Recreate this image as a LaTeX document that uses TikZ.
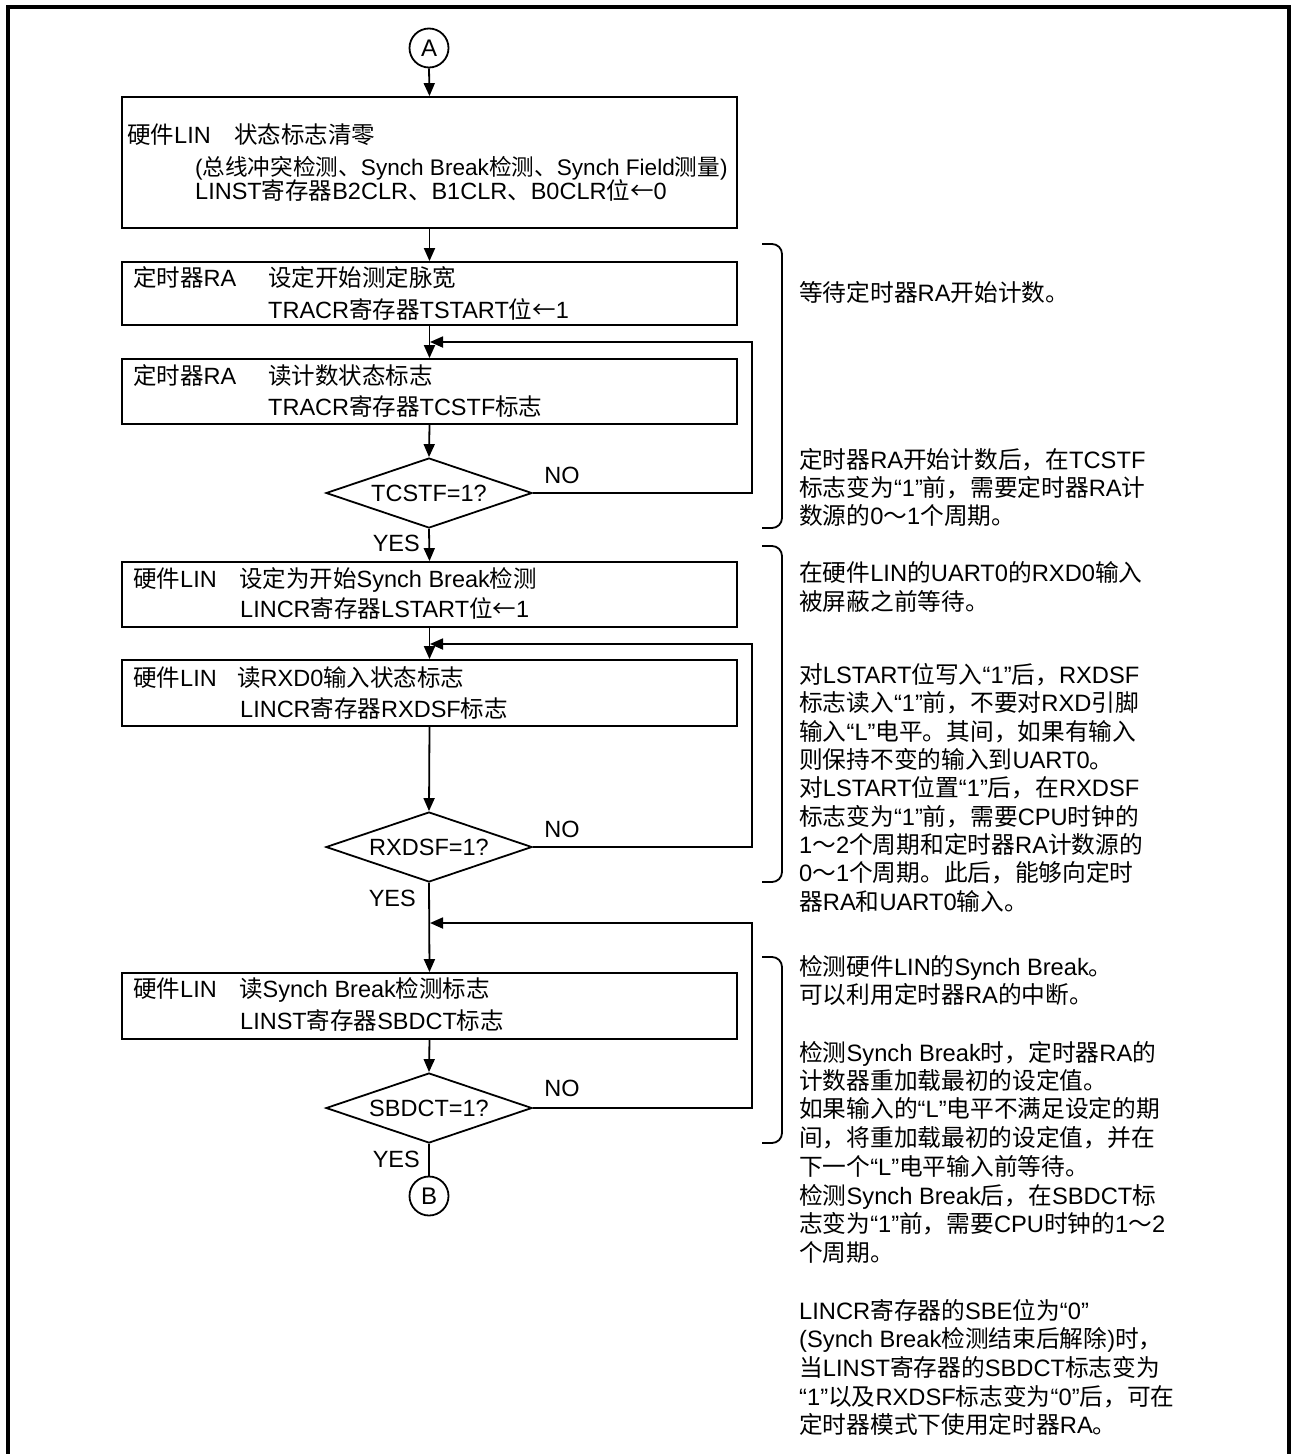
\documentclass[tikz,border=0pt]{standalone}
\usepackage{fontspec}
\setmainfont{Liberation Sans}
\newfontfamily\cjkfam{Noto Sans CJK SC}
\usetikzlibrary{arrows.meta,shapes.geometric}
\XeTeXinterchartokenstate=1
\newXeTeXintercharclass\cjkcls
\newcount\cjkc
\cjkc="3000 \loop \XeTeXcharclass\cjkc=\cjkcls \advance\cjkc by 1 \ifnum\cjkc<"3040 \repeat
\cjkc="4E00 \loop \XeTeXcharclass\cjkc=\cjkcls \advance\cjkc by 1 \ifnum\cjkc<"A000 \repeat
\cjkc="FF00 \loop \XeTeXcharclass\cjkc=\cjkcls \advance\cjkc by 1 \ifnum\cjkc<"FFF0 \repeat
\XeTeXcharclass"2190=\cjkcls
\XeTeXinterchartoks 0 \cjkcls = {\cjkfam}
\XeTeXinterchartoks 4095 \cjkcls = {\cjkfam}
\XeTeXinterchartoks \cjkcls 0 = {\rmfamily}
\XeTeXinterchartoks \cjkcls 4095 = {\rmfamily}
\tikzset{
  procbox/.style={draw, line width=1.8pt, minimum width=615pt, inner sep=0pt},
  decbox/.style={draw, diamond, aspect=3, line width=1.8pt, minimum width=206pt, minimum height=70pt, inner sep=0pt, font=\fontsize{23.5}{27}\selectfont},
  conn/.style={draw, circle, line width=1.8pt, minimum size=39pt, inner sep=0pt, font=\fontsize{24}{27}\selectfont},
  btxt/.style={anchor=base west, inner sep=0pt, font=\fontsize{23.5}{27}\selectfont},
  rtxt/.style={anchor=base west, inner sep=0pt, font=\fontsize{23.7}{27}\selectfont},
  lbl/.style={inner sep=0pt, font=\fontsize{23.5}{27}\selectfont},
  flow/.style={line width=1.8pt, -{Triangle[length=13pt,width=11pt]}},
  plain/.style={line width=1.8pt},
  brace/.style={line width=1.8pt, rounded corners=10pt},
}
\begin{document}
\begin{tikzpicture}[x=1pt,y=-1pt]
\useasboundingbox (0,0) rectangle (1291,1454);
\fill[white] (0,0) rectangle (1291,1454);
% outer frame
\draw[line width=3.8pt] (8,1456) -- (8,7) -- (1289,7) -- (1289,1456);

% connectors A/B
\node[conn] (A) at (429,48) {A};
\node[conn] (B) at (429,1196) {B};

% process boxes
\node[procbox, minimum height=131pt] (b1) at (429.5,162.5) {};
\node[procbox, minimum height=63pt] (b2) at (429.5,293.5) {};
\node[procbox, minimum height=65pt] (b3) at (429.5,391.5) {};
\node[procbox, minimum height=65pt] (b4) at (429.5,594.5) {};
\node[procbox, minimum height=66pt] (b5) at (429.5,693) {};
\node[procbox, minimum height=66pt] (b6) at (429.5,1006) {};

% decisions
\node[decbox] (d1) at (429,493) {TCSTF=1?};
\node[decbox] (d2) at (429,847) {RXDSF=1?};
\node[decbox] (d3) at (429,1108) {SBDCT=1?};

% box texts
\node[btxt] (t1a) at (127,143) {硬件LIN};
\node[btxt] (t1b) at (234,143) {状态标志清零};
\node[btxt, font=\fontsize{22.6}{27}\selectfont] (t1c) at (195,175) {(总线冲突检测、Synch Break检测、Synch Field测量)};
\node[btxt] (t1d) at (195,199) {LINST寄存器B2CLR、B1CLR、B0CLR位←0};

\node[btxt] (t2a) at (133,286) {定时器RA};
\node[btxt] (t2b) at (268,286) {设定开始测定脉宽};
\node[btxt] (t2c) at (268,318) {TRACR寄存器TSTART位←1};

\node[btxt] (t3a) at (133,384) {定时器RA};
\node[btxt] (t3b) at (268,384) {读计数状态标志};
\node[btxt] (t3c) at (268,415) {TRACR寄存器TCSTF标志};

\node[btxt] (t4a) at (133,587) {硬件LIN};
\node[btxt] (t4b) at (239,587) {设定为开始Synch Break检测};
\node[btxt] (t4c) at (240,617) {LINCR寄存器LSTART位←1};

\node[btxt] (t5a) at (133,686) {硬件LIN};
\node[btxt] (t5b) at (237,686) {读RXD0输入状态标志};
\node[btxt] (t5c) at (240,717) {LINCR寄存器RXDSF标志};

\node[btxt] (t6a) at (133,997) {硬件LIN};
\node[btxt] (t6b) at (239,997) {读Synch Break检测标志};
\node[btxt] (t6c) at (240,1029) {LINST寄存器SBDCT标志};

% labels
\node[lbl] (no1) at (562,475) {NO};
\node[lbl] (no2) at (562,829) {NO};
\node[lbl] (no3) at (562,1088) {NO};
\node[lbl, anchor=east] (yes1) at (420,543) {YES};
\node[lbl, anchor=east] (yes2) at (416,898) {YES};
\node[lbl, anchor=east] (yes3) at (420,1159) {YES};

% junction coordinates
\coordinate (j1) at (429,342);
\coordinate (j2) at (429,644);
\coordinate (j3) at (429,923);
\coordinate (r1) at (752,493);
\coordinate (r2) at (752,847);
\coordinate (r3) at (752,1108);

% main flow
\draw[flow] (A.south) -- (b1.north);
\draw[flow] (b1.south) -- (b2.north);
\draw[flow] (b2.south) -- (b3.north);
\draw[flow] (b3.south) -- (d1.north);
\draw[flow] (d1.south) -- (b4.north);
\draw[flow] (b4.south) -- (b5.north);
\draw[flow] (b5.south) -- (d2.north);
\draw[flow] (d2.south) -- (b6.north);
\draw[flow] (b6.south) -- (d3.north);
\draw[plain] (d3.south) -- (B.north);

% loops
\draw[flow] (d1.east) -- (r1) |- ([xshift=1pt]j1);
\draw[flow] (d2.east) -- (r2) |- ([xshift=1pt]j2);
\draw[flow] (d3.east) -- (r3) |- ([xshift=1pt]j3);

% brackets
\draw[brace] (762,244) -- (782,244) -- (782,528) -- (762,528);
\draw[brace] (762,546) -- (782,546) -- (782,882) -- (762,882);
\draw[brace] (762,957) -- (782,957) -- (782,1143) -- (762,1143);

% right texts
\node[rtxt] (n1) at (799,301) {等待定时器RA开始计数。};
\node[rtxt] (n2) at (799,468) {定时器RA开始计数后，在TCSTF};
\node[rtxt] (n3) at (799,496) {标志变为“1”前，需要定时器RA计};
\node[rtxt] (n4) at (799,524) {数源的0～1个周期。};

\node[rtxt] (m1) at (799,581) {在硬件LIN的UART0的RXD0输入};
\node[rtxt] (m2) at (799,610) {被屏蔽之前等待。};
\node[rtxt] (m3) at (799,683) {对LSTART位写入“1”后，RXDSF};
\node[rtxt] (m4) at (799,711) {标志读入“1”前，不要对RXD引脚};
\node[rtxt] (m5) at (799,740) {输入“L”电平。其间，如果有输入};
\node[rtxt] (m6) at (799,768) {则保持不变的输入到UART0。};
\node[rtxt] (m7) at (799,796) {对LSTART位置“1”后，在RXDSF};
\node[rtxt] (m8) at (799,825) {标志变为“1”前，需要CPU时钟的};
\node[rtxt] (m9) at (799,853) {1～2个周期和定时器RA计数源的};
\node[rtxt] (m10) at (799,881) {0～1个周期。此后，能够向定时};
\node[rtxt] (m11) at (799,910) {器RA和UART0输入。};

\node[rtxt] (k1) at (799,975) {检测硬件LIN的Synch Break。};
\node[rtxt] (k2) at (799,1003) {可以利用定时器RA的中断。};
\node[rtxt] (k3) at (799,1061) {检测Synch Break时，定时器RA的};
\node[rtxt] (k4) at (799,1089) {计数器重加载最初的设定值。};
\node[rtxt] (k5) at (799,1117) {如果输入的“L”电平不满足设定的期};
\node[rtxt] (k6) at (799,1146) {间，将重加载最初的设定值，并在};
\node[rtxt] (k7) at (799,1175) {下一个“L”电平输入前等待。};
\node[rtxt] (k8) at (799,1204) {检测Synch Break后，在SBDCT标};
\node[rtxt] (k9) at (799,1232) {志变为“1”前，需要CPU时钟的1～2};
\node[rtxt] (k10) at (799,1261) {个周期。};
\node[rtxt] (k11) at (799,1319) {LINCR寄存器的SBE位为“0”};
\node[rtxt] (k12) at (799,1347) {(Synch Break检测结束后解除)时，};
\node[rtxt] (k13) at (799,1376) {当LINST寄存器的SBDCT标志变为};
\node[rtxt] (k14) at (799,1405) {“1”以及RXDSF标志变为“0”后，可在};
\node[rtxt] (k15) at (799,1433) {定时器模式下使用定时器RA。};
\end{tikzpicture}
\end{document}
